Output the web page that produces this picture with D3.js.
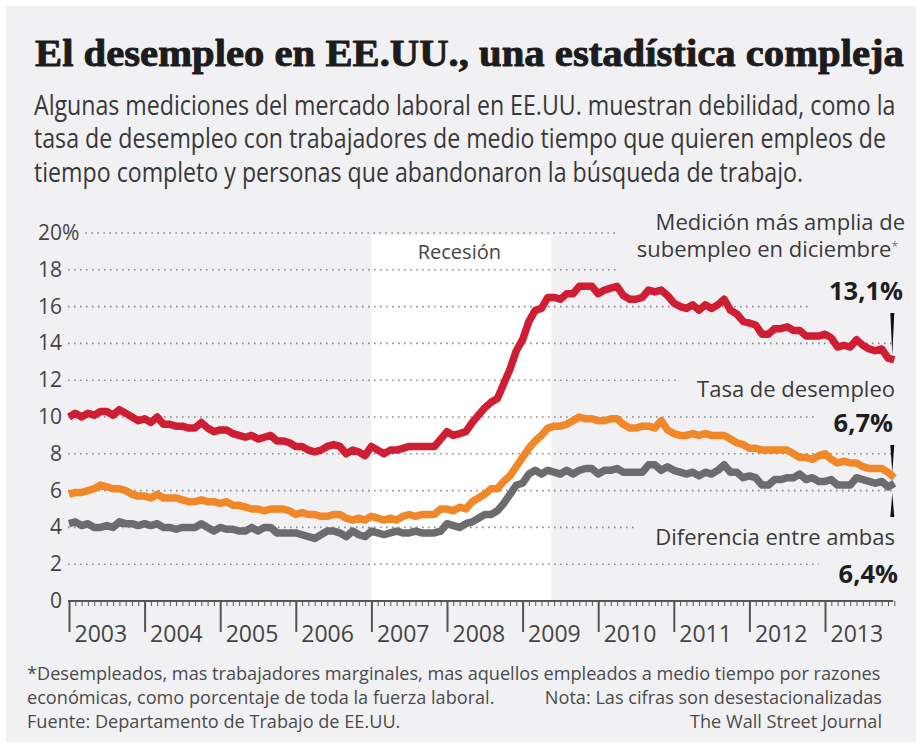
<!DOCTYPE html>
<html><head><meta charset="utf-8">
<script src="https://cdn.jsdelivr.net/npm/d3@7"></script>
<style>
html,body{margin:0;padding:0;background:#fff;}
svg{display:block;}
</style></head><body>
<svg id="c" width="916" height="743"></svg>
<script>
// ---------- DATA ----------
const title = "El desempleo en EE.UU., una estadística compleja";
const subtitleLines = [
  "Algunas mediciones del mercado laboral en EE.UU. muestran debilidad, como la",
  "tasa de desempleo con trabajadores de medio tiempo que quieren empleos de",
  "tiempo completo y personas que abandonaron la búsqueda de trabajo."
];
const footnoteLeft = [
  "*Desempleados, mas trabajadores marginales, mas aquellos empleados a medio tiempo por razones",
  "económicas, como porcentaje de toda la fuerza laboral.",
  "Fuente: Departamento de Trabajo de EE.UU."
];
const footnoteRight = ["", "Nota: Las cifras son desestacionalizadas", "The Wall Street Journal"];
const recessionLabel = "Recesión";
const startYear = 2003;
const yearLabels = ["2003","2004","2005","2006","2007","2008","2009","2010","2011","2012","2013"];
const yTicks = [0,2,4,6,8,10,12,14,16,18,20];
const recession = [2007.0, 2009.38];

// monthly values Jan 2003 .. Dec 2013
const broadUnderemployment = [
10.0,10.2,10.0,10.2,10.1,10.3,10.3,10.1,10.4,10.2,10.0,9.8,
9.9,9.7,10.0,9.6,9.6,9.5,9.5,9.4,9.4,9.7,9.4,9.2,
9.3,9.3,9.1,9.0,8.9,9.0,8.8,8.9,9.0,8.7,8.7,8.6,
8.4,8.4,8.2,8.1,8.2,8.4,8.5,8.4,8.0,8.2,8.1,7.9,
8.4,8.2,8.0,8.2,8.2,8.3,8.4,8.4,8.4,8.4,8.4,8.8,
9.2,9.0,9.1,9.2,9.7,10.1,10.5,10.8,11.0,11.8,12.6,13.6,
14.2,15.2,15.8,15.9,16.5,16.5,16.4,16.7,16.7,17.1,17.1,17.1,
16.7,16.9,17.0,17.1,16.6,16.4,16.4,16.5,16.9,16.8,16.9,16.6,
16.2,16.0,15.9,16.1,15.8,16.1,15.9,16.1,16.4,15.8,15.6,15.2,
15.1,15.0,14.5,14.5,14.8,14.8,14.9,14.7,14.7,14.4,14.4,14.4,
14.5,14.3,13.8,13.9,13.8,14.2,13.9,13.7,13.6,13.7,13.2,13.1];
const unemploymentRate = [
5.8,5.9,5.9,6.0,6.1,6.3,6.2,6.1,6.1,6.0,5.8,5.7,
5.7,5.6,5.8,5.6,5.6,5.6,5.5,5.4,5.4,5.5,5.4,5.4,
5.3,5.4,5.2,5.2,5.1,5.0,5.0,4.9,5.0,5.0,5.0,4.9,
4.7,4.8,4.7,4.7,4.6,4.6,4.7,4.7,4.5,4.4,4.5,4.4,
4.6,4.5,4.4,4.5,4.4,4.6,4.7,4.6,4.7,4.7,4.7,5.0,
5.0,4.9,5.1,5.0,5.4,5.6,5.8,6.1,6.1,6.5,6.8,7.3,
7.8,8.3,8.7,9.0,9.4,9.5,9.5,9.6,9.8,10.0,9.9,9.9,
9.8,9.8,9.9,9.9,9.6,9.4,9.4,9.5,9.5,9.4,9.8,9.3,
9.1,9.0,9.0,9.1,9.0,9.1,9.0,9.0,9.0,8.8,8.6,8.5,
8.3,8.3,8.2,8.2,8.2,8.2,8.2,8.0,7.8,7.8,7.7,7.9,
8.0,7.7,7.5,7.6,7.5,7.5,7.3,7.2,7.2,7.2,7.0,6.7];
const differenceBoth = [
4.2,4.3,4.1,4.2,4.0,4.0,4.1,4.0,4.3,4.2,4.2,4.1,
4.2,4.1,4.2,4.0,4.0,3.9,4.0,4.0,4.0,4.2,4.0,3.8,
4.0,3.9,3.9,3.8,3.8,4.0,3.8,4.0,4.0,3.7,3.7,3.7,
3.7,3.6,3.5,3.4,3.6,3.8,3.8,3.7,3.5,3.8,3.6,3.5,
3.8,3.7,3.6,3.7,3.8,3.7,3.7,3.8,3.7,3.7,3.7,3.8,
4.2,4.1,4.0,4.2,4.3,4.5,4.7,4.7,4.9,5.3,5.8,6.3,
6.4,6.9,7.1,6.9,7.1,7.0,6.9,7.1,6.9,7.1,7.2,7.2,
6.9,7.1,7.1,7.2,7.0,7.0,7.0,7.0,7.4,7.4,7.1,7.3,
7.1,7.0,6.9,7.0,6.8,7.0,6.9,7.1,7.4,7.0,7.0,6.7,
6.8,6.7,6.3,6.3,6.6,6.6,6.7,6.7,6.9,6.6,6.7,6.5,
6.5,6.6,6.3,6.3,6.3,6.7,6.6,6.5,6.4,6.5,6.2,6.4];
const seriesNames = ["Medición más amplia de|subempleo en diciembre*", "Tasa de desempleo", "Diferencia entre ambas"];
const seriesEndLabels = ["13,1%", "6,7%", "6,4%"];
const seriesColors = ["#cf1d33", "#f0882a", "#6c6c6f"];

// ---------- DRAW ----------
const W = 916, H = 743;
const svg = d3.select("#c");
const gBg = svg.append("g"), gGrid = svg.append("g"), gAxis = svg.append("g"),
      gLines = svg.append("g"), gText = svg.append("g");
const sans = "'Open Sans','Noto Sans',sans-serif";

gBg.append("rect").attr("x", 6).attr("y", 6).attr("width", W - 6).attr("height", 736).attr("fill", "#f1f1f4");

const x = d3.scaleLinear().domain([startYear, startYear + yearLabels.length]).range([69, 900.6]);
const y = d3.scaleLinear().domain([0, 20]).range([601, 233]);
const tOf = i => startYear + i / 12;

gBg.append("rect")
  .attr("x", x(recession[0])).attr("y", y(20) + 2)
  .attr("width", x(recession[1]) - x(recession[0]))
  .attr("height", y(0) - y(20) - 2)
  .attr("fill", "#ffffff");

// condensed text block: lines drawn at natural width inside a horizontally scaled group
function condensedBlock(lines, opts) {
  const g = gText.append("g");
  const ts = g.selectAll(null).data(lines).join("text")
    .attr("x", 0).attr("y", (d, i) => i * opts.lead)
    .attr("font-family", opts.family).attr("font-size", opts.size)
    .attr("font-weight", opts.weight || "normal")
    .attr("fill", opts.fill).attr("text-anchor", opts.anchor || "start")
    .text(d => d);
  if (opts.stroke) ts.attr("stroke", opts.fill).attr("stroke-width", opts.stroke).attr("stroke-linejoin", "round");
  const r = opts.ratio || opts.target / ts.node().getComputedTextLength();
  g.attr("transform", `translate(${opts.x},${opts.y}) scale(${r},1)`);
  return r;
}

// title
condensedBlock([title], { x: 35, y: 66, lead: 0, family: "'Liberation Serif','DejaVu Serif',serif",
  weight: "bold", size: 38, fill: "#1c1c1c", target: 869, stroke: 0.9 });

// subtitle
condensedBlock(subtitleLines, { x: 34, y: 115, lead: 33.5, family: sans, size: 27,
  fill: "#383838", target: 862 });

// footnote
const rf = condensedBlock(footnoteLeft, { x: 27, y: 680, lead: 24, family: sans, size: 19,
  fill: "#4a4a4a", target: 854 });
condensedBlock(footnoteRight, { x: 882, y: 680, lead: 24, family: sans, size: 19,
  fill: "#4a4a4a", anchor: "end", ratio: rf });

// recession label
gText.append("text").attr("x", (x(recession[0]) + x(recession[1])) / 2 - 2).attr("y", 259)
  .attr("text-anchor", "middle").attr("font-family", sans).attr("font-size", 20)
  .attr("fill", "#444").text(recessionLabel);

// y tick labels
const yLab = gText.selectAll(null).data(yTicks).join("text")
  .attr("x", 62).attr("y", d => y(d) + 7)
  .attr("font-family", sans).attr("font-size", 21).attr("fill", "#444")
  .attr("text-anchor", "start");
yLab.each(function (d) {
  const t = d3.select(this);
  t.append("tspan").attr("class", "num").text(d);
  if (d === 20) t.append("tspan").text("%");
});
yLab.each(function (d) {
  const num = d3.select(this).select("tspan.num").node();
  const w = num.getComputedTextLength();
  d3.select(this).attr("x", 62 - w);
});

// series end labels
const nameBlocks = [];
const nameY = [[230, 257], [397], [545]];
const valueY = [300, 432, 583];
const valueRight = [903, 893, 898];
const nameRight = [[905, 898], [895], [895]];
seriesNames.forEach((nm, k) => {
  nm.split("|").forEach((line, j) => {
    const t = gText.append("text").attr("x", nameRight[k][j]).attr("y", nameY[k][j])
      .attr("text-anchor", "end").attr("font-family", sans).attr("font-size", 22)
      .attr("fill", "#3a3a3a");
    if (line.endsWith("*")) {
      t.append("tspan").text(line.slice(0, -1));
      t.append("tspan").attr("font-size", 12).attr("dy", -6).attr("fill", "#777").text("*");
    } else t.text(line);
    nameBlocks.push(t.node());
  });
  const v = gText.append("text").attr("x", valueRight[k]).attr("y", valueY[k])
    .attr("text-anchor", "end").attr("font-family", sans).attr("font-weight", "bold")
    .attr("font-size", 25.5).attr("fill", "#1e1e1e").text(seriesEndLabels[k]);
  nameBlocks.push(v.node());
});

// wedge pointers
const endX = x(tOf(broadUnderemployment.length - 1)) - 2;
const seriesAll = [broadUnderemployment, unemploymentRate, differenceBoth];
const wedges = [
  { top: valueY[0] + 13, bottom: y(seriesAll[0][seriesAll[0].length - 1]) - 5, wideTop: true },
  { top: valueY[1] + 13, bottom: y(seriesAll[1][seriesAll[1].length - 1]) - 5, wideTop: true },
  { top: y(seriesAll[2][seriesAll[2].length - 1]) + 10, bottom: nameY[2][0] - 28, wideTop: false }
];
wedges.forEach(w => {
  const p = d3.path();
  if (w.wideTop) {
    p.moveTo(endX - 2, w.top); p.lineTo(endX + 2, w.top); p.lineTo(endX, w.bottom); p.closePath();
  } else {
    p.moveTo(endX - 2, w.bottom); p.lineTo(endX + 2, w.bottom); p.lineTo(endX, w.top); p.closePath();
  }
  gText.append("path").attr("d", p.toString()).attr("fill", "#111");
});

// gridlines masked by label boxes
const boxes = nameBlocks.map(n => n.getBBox());
yTicks.filter(d => d > 0).forEach(d => {
  const yy = y(d);
  const lab = yLab.filter(v => v === d).node().getBBox();
  const x0 = lab.x + lab.width + 6;
  let x1 = endX + 1;
  boxes.forEach(b => {
    if (yy >= b.y - 2 && yy <= b.y + b.height + 8) x1 = Math.min(x1, b.x - 20);
  });
  gGrid.append("line").attr("x1", x0).attr("x2", x1).attr("y1", yy).attr("y2", yy)
    .attr("stroke", "#8a8a8e").attr("stroke-width", 1.6)
    .attr("stroke-dasharray", "1.6,4.4").attr("stroke-linecap", "butt");
});

// x axis
const months = d3.range(0, broadUnderemployment.length).map(tOf);
const years = yearLabels.map(s => +s);
const minorAxis = d3.axisBottom(x).tickValues(months).tickSize(5).tickFormat("").tickSizeOuter(0);
const majorAxis = d3.axisBottom(x).tickValues(years).tickSize(31).tickFormat((d, i) => yearLabels[i]).tickSizeOuter(0);
const gMin = gAxis.append("g").attr("transform", `translate(0,${y(0)})`).call(minorAxis);
gMin.select(".domain").remove();
gMin.selectAll("line").attr("stroke", "#555").attr("stroke-width", 1);
const gMaj = gAxis.append("g").attr("transform", `translate(0,${y(0)})`).call(majorAxis);
gMaj.select(".domain").remove();
gMaj.selectAll("line").attr("stroke", "#555").attr("stroke-width", 2);
gMaj.selectAll("text").attr("text-anchor", "start").attr("x", 5).attr("y", 41).attr("dy", null)
  .attr("font-family", sans).attr("font-size", 23).attr("fill", "#444");
gAxis.append("line").attr("x1", x(startYear) - 1).attr("x2", endX + 1)
  .attr("y1", y(0)).attr("y2", y(0)).attr("stroke", "#555").attr("stroke-width", 2);

// lines
const line = d3.line().x((d, i) => x(tOf(i))).y(d => y(d)).curve(d3.curveLinear);
[differenceBoth, unemploymentRate, broadUnderemployment].forEach((s, k) => {
  const col = [seriesColors[2], seriesColors[1], seriesColors[0]][k];
  gLines.append("path").attr("d", line(s)).attr("fill", "none").attr("stroke", col)
    .attr("stroke-width", 7.5).attr("stroke-linejoin", "round").attr("stroke-linecap", "butt");
});
</script>
</body></html>
